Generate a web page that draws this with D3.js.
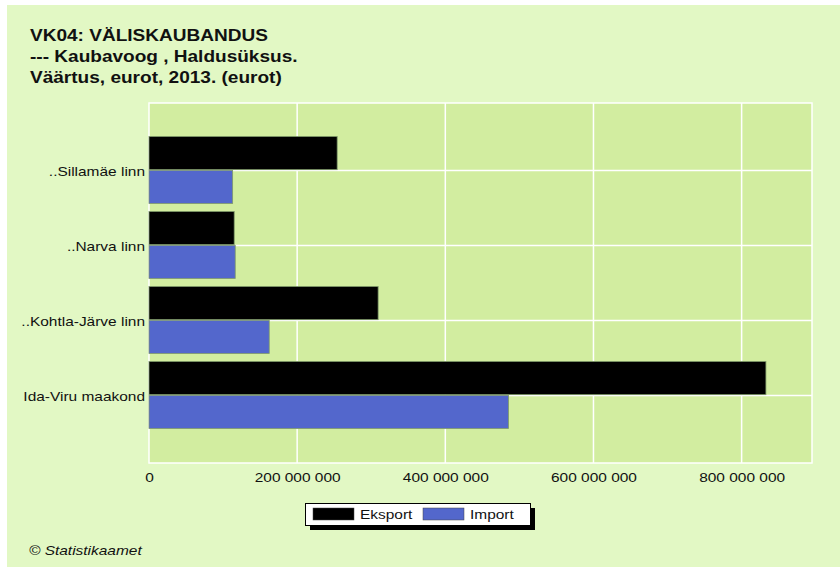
<!DOCTYPE html>
<html>
<head>
<meta charset="utf-8">
<script src="https://cdnjs.cloudflare.com/ajax/libs/d3/7.8.5/d3.min.js"></script>
<style>
  body { margin: 0; background: #fff; }
  svg { display: block; font-family: Arial, "Liberation Sans", sans-serif; }
</style>
</head>
<body>
<div id="chart"></div>
<script>
const titleLines = [
  'VK04: VÄLISKAUBANDUS',
  '--- Kaubavoog , Haldusüksus.',
  'Väärtus, eurot, 2013. (eurot)',
];
const categories = ['..Sillamäe linn', '..Narva linn', '..Kohtla-Järve linn', 'Ida-Viru maakond'];
const seriesNames = ['Eksport', 'Import'];
const eksportValues = [254000000, 115000000, 309300000, 832800000];
const importValues = [112900000, 116400000, 162300000, 485300000];
const xTicks = [0, 200000000, 400000000, 600000000, 800000000];
const footer = '© Statistikaamet';

const W = 840, H = 567;
const plot = { left: 149, right: 812, top: 103, bottom: 463 };
const stretch = 1.19; // the source picture is widened horizontally
const colors = { Eksport: '#000000', Import: '#5367cc' };

const attrs = o => s => { Object.keys(o).forEach(k => s.attr(k, o[k])); };
const at = (x, y) => `translate(${x},${y}) scale(${stretch},1)`;

const svg = d3.select('#chart').append('svg').call(attrs({ width: W, height: H }));

svg.append('rect').call(attrs({ x: 7, y: 5, width: W - 7, height: H - 5, fill: '#e2f8c4' }));

// title
svg.append('g').selectAll('text')
  .data(titleLines)
  .enter()
  .append('text')
  .call(attrs({
    transform: (d, i) => at(30, 41 + i * 21),
    'font-size': '16px',
    'font-weight': 'bold',
    fill: '#111',
  }))
  .text(d => d);

const x = d3.scaleLinear().domain([0, 895000000]).range([plot.left, plot.right]);
const y = d3.scaleBand().domain(categories).range([plot.top, plot.bottom]).paddingOuter(0.4).paddingInner(0);
const sub = d3.scaleBand().domain(seriesNames).range([-34, 33]).paddingInner(0.02);

// plot background
svg.append('rect').call(attrs({
  x: plot.left, y: plot.top,
  width: plot.right - plot.left, height: plot.bottom - plot.top,
  fill: '#d2eda0', stroke: '#fff', 'stroke-width': 1.5,
}));

// grid
svg.append('g').selectAll('line')
  .data(xTicks.slice(1))
  .enter()
  .append('line')
  .call(attrs({ x1: d => x(d), x2: d => x(d), y1: plot.top, y2: plot.bottom, stroke: '#fff', 'stroke-width': 1.5 }));

svg.append('g').selectAll('line')
  .data(categories)
  .enter()
  .append('line')
  .call(attrs({
    x1: plot.left, x2: plot.right,
    y1: d => y(d) + y.bandwidth() / 2, y2: d => y(d) + y.bandwidth() / 2,
    stroke: '#fff', 'stroke-width': 1.5,
  }));

// bars
const rows = categories.map((c, i) => ({ name: c, Eksport: eksportValues[i], Import: importValues[i] }));
svg.append('g').selectAll('g')
  .data(rows)
  .enter()
  .append('g')
  .attr('transform', d => `translate(0,${y(d.name) + y.bandwidth() / 2})`)
  .selectAll('rect')
  .data(d => seriesNames.map(s => ({ key: s, value: d[s] })))
  .enter()
  .append('rect')
  .call(attrs({
    x: x(0),
    y: d => sub(d.key),
    width: d => x(d.value) - x(0),
    height: sub.bandwidth(),
    fill: d => colors[d.key],
    stroke: '#7f9a6a',
    'stroke-width': 0.8,
  }));

// category labels
svg.append('g').selectAll('text')
  .data(categories)
  .enter()
  .append('text')
  .call(attrs({
    transform: d => at(145, y(d) + y.bandwidth() / 2 + 5),
    'text-anchor': 'end',
    'font-size': '13px',
    fill: '#111',
  }))
  .text(d => d);

// x axis
const fmt = v => d3.format(',')(v).replace(/,/g, ' ');
const axis = svg.append('g')
  .attr('transform', `translate(0,${plot.bottom})`)
  .call(d3.axisBottom(x).tickValues(xTicks).tickSize(0).tickFormat(fmt));
axis.select('.domain').remove();
axis.selectAll('text').call(attrs({
  y: null, dy: null,
  transform: at(0, 19),
  'font-size': '13px',
  'font-family': 'Arial, "Liberation Sans", sans-serif',
  fill: '#111',
}));

// legend
const lg = svg.append('g').attr('transform', 'translate(305,503)');
lg.append('rect').call(attrs({ x: 5, y: 5, width: 225, height: 22, fill: '#000' }));
lg.append('rect').call(attrs({ x: 0.5, y: 0.5, width: 225, height: 22, fill: '#fff', stroke: '#000', 'stroke-width': 1 }));
const items = lg.selectAll('g.item')
  .data(seriesNames)
  .enter()
  .append('g')
  .attr('class', 'item')
  .attr('transform', (d, i) => `translate(${8 + i * 110},5)`);
items.append('rect').call(attrs({ width: 41, height: 12, fill: d => colors[d], stroke: '#444', 'stroke-width': 0.5 }));
items.append('text').call(attrs({ transform: at(47, 11), 'font-size': '13px', fill: '#111' })).text(d => d);

// footer
svg.append('text').call(attrs({
  transform: at(29, 555),
  'font-size': '13px',
  'font-style': 'italic',
  fill: '#111',
})).text(footer);
</script>
</body>
</html>
